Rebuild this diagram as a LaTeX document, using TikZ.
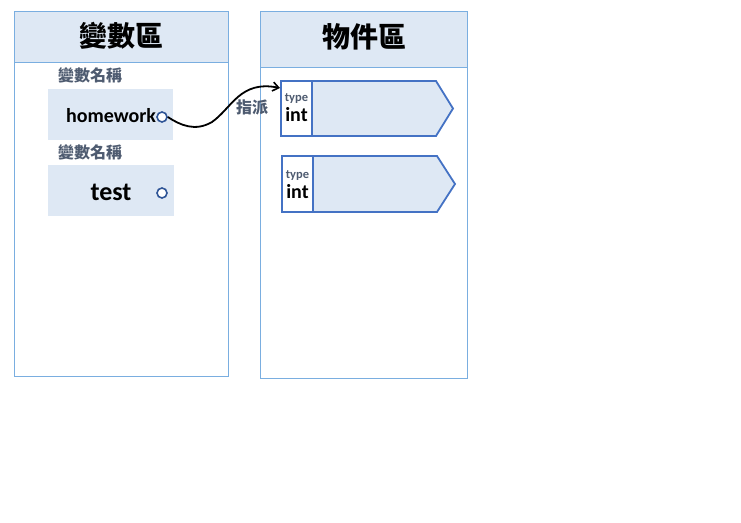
\documentclass[tikz,border=0pt]{standalone}
\usepackage{fontspec}
\setmainfont{Carlito}
\newfontfamily\cjk{Noto Sans CJK TC}
\usetikzlibrary{arrows.meta}
\definecolor{panelline}{HTML}{7AAEE0}
\definecolor{lightfill}{HTML}{DEE8F4}
\definecolor{objline}{HTML}{4472C4}
\definecolor{graytext}{HTML}{4E5B70}
\definecolor{dotline}{HTML}{2F5597}
\tikzset{
  panel/.style={draw=panelline, line width=0.9pt},
  header/.style={draw=panelline, fill=lightfill, line width=0.9pt},
  headtext/.style={font=\cjk\fontsize{28}{32}\selectfont\bfseries, text=black},
  varlabel/.style={font=\cjk\fontsize{16}{18}\selectfont\bfseries, text=graytext},
  varbox/.style={fill=lightfill, draw=none},
  dot/.style={circle, draw=dotline, fill=white, line width=1.6pt, minimum size=10pt, inner sep=0pt},
  objbody/.style={draw=objline, fill=lightfill, line width=1.8pt, line join=miter},
  typebox/.style={draw=objline, fill=white, line width=1.8pt},
  typetext/.style={font=\fontsize{12.5}{13}\selectfont\bfseries, text=graytext},
  inttext/.style={font=\fontsize{20}{22}\selectfont\bfseries, text=black},
}
\begin{document}
\begin{tikzpicture}[x=1pt,y=-1pt]
\useasboundingbox (0,0) rectangle (741,522);
% left panel
\draw[panel] (14,11) rectangle (228,376);
\draw[header] (14,11) rectangle (228,62);
\node[headtext] (lh) at (121,36) {變數區};
% right panel
\draw[panel] (260,11) rectangle (467,378);
\draw[header] (260,11) rectangle (467,67);
\node[headtext] (rh) at (364,37) {物件區};
% variables
\node[varlabel] (vl1) at (90,75) {變數名稱};
\fill[varbox] (48,89) rectangle (173,140);
\node[font=\fontsize{20}{22}\selectfont\bfseries] (hw) at (111,116) {homework};
\node[dot] (d1) at (162,117) {};
\node[varlabel] (vl2) at (90,152) {變數名稱};
\fill[varbox] (48,165) rectangle (174,216);
\node[font=\fontsize{26}{28}\selectfont\bfseries] (ts) at (111,192) {test};
\node[dot] (d2) at (162,193) {};
% objects
\draw[objbody] (281,81) -- (436,81) -- (453,108.5) -- (436,136) -- (281,136) -- cycle;
\draw[typebox] (281,81) rectangle (312,136);
\node[typetext] (t1) at (296.5,99) {type};
\node[inttext] (i1) at (296.5,115) {int};
\coordinate (o1) at (280,88);
\draw[objbody] (282,156) -- (437,156) -- (455,184) -- (437,212) -- (282,212) -- cycle;
\draw[typebox] (282,156) rectangle (313,212);
\node[typetext] (t2) at (297.5,176) {type};
\node[inttext] (i2) at (297.5,192) {int};
% assignment arrow
\draw[-{Straight Barb[length=6pt,width=9pt,line width=1.6pt]}, line width=1.8pt, black]
  (d1.east) .. controls (180,125) and (195,132) .. (212,122)
  .. controls (232,108) and (240,80) .. (o1);
\node[varlabel] (asg) at (252,107) {指派};
\end{tikzpicture}
\end{document}
